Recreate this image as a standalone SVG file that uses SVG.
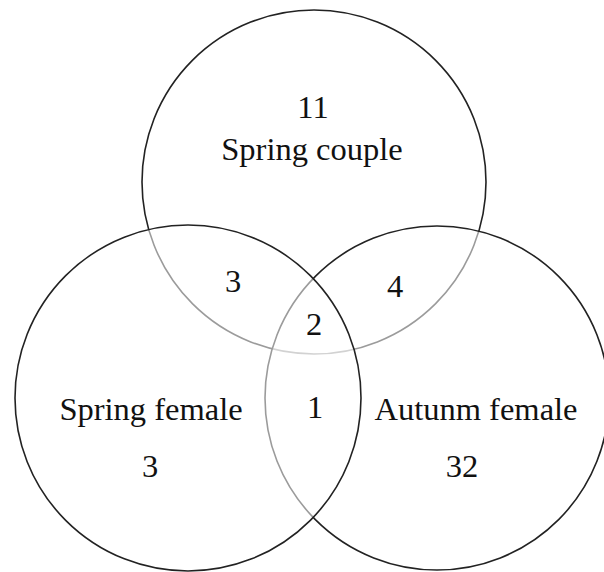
<svg xmlns="http://www.w3.org/2000/svg" width="604" height="572" viewBox="0 0 604 572">
<style>
.c{fill:#fff;fill-opacity:0.55;stroke:#222;stroke-width:1.6}
.t{font-family:"Liberation Serif","Times New Roman",serif;font-size:32.5px;fill:#111;text-anchor:middle}
</style>
<rect width="604" height="572" fill="#fff"/>
<g id="spring-couple"><circle class="c" cx="314" cy="182" r="172"/></g>
<g id="autumn-female"><circle class="c" cx="437" cy="398" r="172"/></g>
<g id="spring-female"><circle class="c" cx="188" cy="398" r="173"/></g>
<g id="labels">
<text class="t" x="313" y="118">11</text>
<text class="t" x="312" y="160">Spring couple</text>
<text class="t" x="233" y="292">3</text>
<text class="t" x="395" y="297">4</text>
<text class="t" x="314" y="335">2</text>
<text class="t" x="315" y="418">1</text>
<text class="t" x="151" y="420">Spring female</text>
<text class="t" x="476" y="420">Autunm female</text>
<text class="t" x="150" y="477">3</text>
<text class="t" x="462" y="477">32</text>
</g>
</svg>
